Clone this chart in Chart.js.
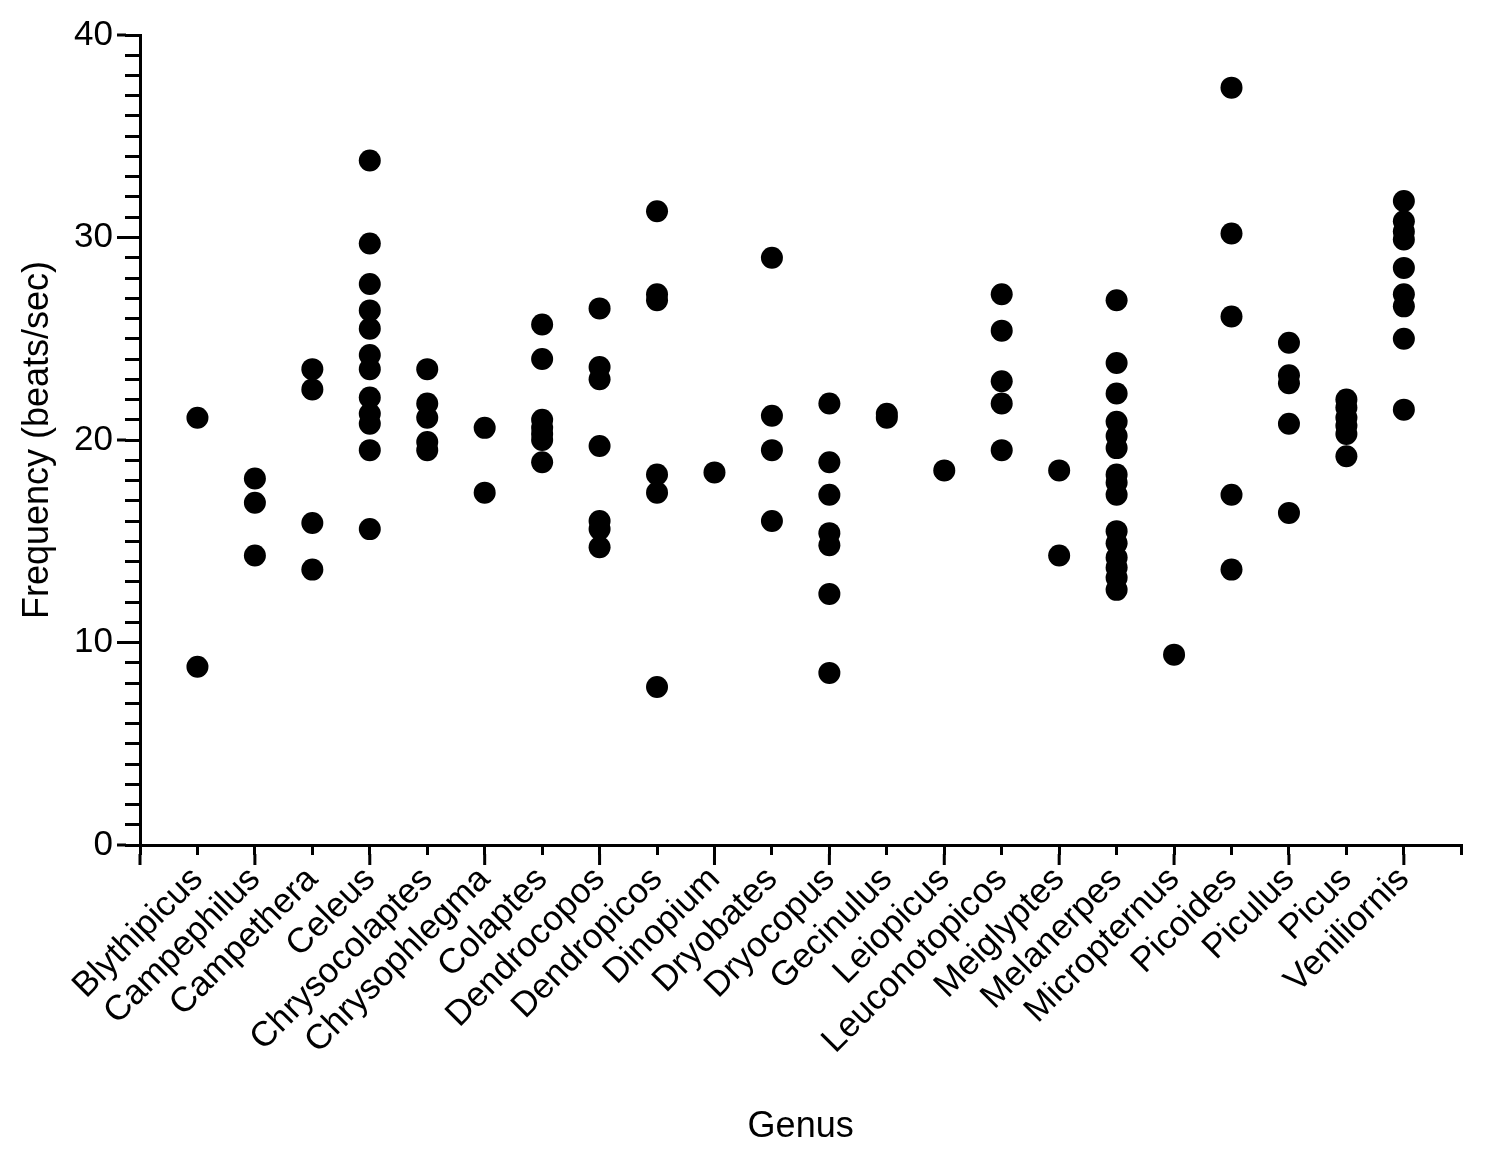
<!DOCTYPE html>
<html>
<head>
<meta charset="utf-8">
<script src="https://cdn.jsdelivr.net/npm/chart.js@4.4.1/dist/chart.umd.min.js"></script>
<style>
  html, body { margin: 0; padding: 0; background: #fff; }
  #wrap { width: 1495px; height: 1158px; }
</style>
</head>
<body>
<div id="wrap"><canvas id="chart"></canvas></div>
<script>
// genera on the x axis, in order
const genera = [
    "Blythipicus", "Campephilus", "Campethera", "Celeus", "Chrysocolaptes",
    "Chrysophlegma", "Colaptes", "Dendrocopos", "Dendropicos", "Dinopium",
    "Dryobates", "Dryocopus", "Gecinulus", "Leiopicus", "Leuconotopicos",
    "Meiglyptes", "Melanerpes", "Micropternus", "Picoides", "Piculus",
    "Picus", "Veniliornis"
];

// drumming frequency (beats/sec) per genus
const blythipicus = [21.1, 8.8];
const campephilus = [18.1, 16.9, 14.3];
const campethera = [23.5, 22.5, 15.9, 13.6];
const celeus = [33.8, 29.7, 27.7, 26.4, 25.5, 24.2, 23.5, 22.1, 21.3, 20.8, 19.5, 15.6];
const chrysocolaptes = [23.5, 21.8, 21.1, 19.9, 19.5];
const chrysophlegma = [20.6, 17.4];
const colaptes = [25.7, 24.0, 21.0, 20.6, 20.3, 20.0, 18.9];
const dendrocopos = [26.5, 23.6, 23.0, 19.7, 16.0, 15.6, 14.7];
const dendropicos = [31.3, 27.2, 26.9, 18.3, 17.4, 7.8];
const dinopium = [18.4];
const dryobates = [29.0, 21.2, 19.5, 16.0];
const dryocopus = [21.8, 18.9, 17.3, 15.4, 14.8, 12.4, 8.5];
const gecinulus = [21.3, 21.1];
const leiopicus = [18.5];
const leuconotopicos = [27.2, 25.4, 22.9, 21.8, 19.5];
const meiglyptes = [18.5, 14.3];
const melanerpes = [26.9, 23.8, 22.3, 20.9, 20.2, 19.6, 18.3, 17.9, 17.3, 15.5, 14.9, 14.2, 13.7, 13.2, 12.6];
const micropternus = [9.4];
const picoides = [37.4, 30.2, 26.1, 17.3, 13.6];
const piculus = [24.8, 23.2, 22.8, 20.8, 16.4];
const picus = [22.0, 21.6, 21.1, 20.7, 20.3, 19.2];
const veniliornis = [31.8, 30.8, 30.3, 29.9, 28.5, 27.2, 26.6, 25.0, 21.5];

const valuesByGenus = [
    blythipicus, campephilus, campethera, celeus, chrysocolaptes,
    chrysophlegma, colaptes, dendrocopos, dendropicos, dinopium,
    dryobates, dryocopus, gecinulus, leiopicus, leuconotopicos,
    meiglyptes, melanerpes, micropternus, picoides, piculus,
    picus, veniliornis
];

const yMajorTicks = [0, 10, 20, 30, 40];

function buildPoints() {
    let points = [];
    valuesByGenus.forEach((vals, i) => {
        vals.forEach(v => {
            points.push({ x: i + 1, y: v });
        });
    });
    return points;
}

// longer ticks for the major positions (y every 10, x every 2)
const majorTicks = {
    id: 'majorTicks',
    afterDraw(chart) {
        const ctx = chart.ctx;
        const xs = chart.scales.x;
        const ys = chart.scales.y;
        const area = chart.chartArea;
        ctx.save();
        ctx.strokeStyle = '#000';
        ctx.lineWidth = 3;
        ctx.beginPath();
        yMajorTicks.forEach(v => {
            const py = ys.getPixelForValue(v);
            ctx.moveTo(area.left - 23, py);
            ctx.lineTo(area.left - 14, py);
        });
        for (let v = 0; v <= genera.length; v += 2) {
            const px = xs.getPixelForValue(v);
            ctx.moveTo(px, area.bottom + 9);
            ctx.lineTo(px, area.bottom + 20);
        }
        ctx.stroke();
        ctx.restore();
    }
};

const ctx = document.getElementById('chart').getContext('2d');

new Chart(ctx, {
    type: 'scatter',
    data: {
        datasets: [{
            label: 'Frequency',
            data: buildPoints(),
            backgroundColor: '#000',
            borderWidth: 0,
            pointRadius: 11,
            pointHoverRadius: 11
        }]
    },
    options: {
        responsive: true,
        maintainAspectRatio: false,
        animation: false,
        layout: {
            padding: { top: 35, right: 32, left: 0, bottom: 0 }
        },
        plugins: {
            legend: { display: false },
            tooltip: { enabled: false }
        },
        scales: {
            x: {
                type: 'linear',
                min: 0,
                max: genera.length + 1,
                afterFit: scale => { scale.height = 313; },
                border: { color: '#000', width: 3 },
                grid: {
                    drawOnChartArea: false,
                    color: '#000',
                    lineWidth: 3,
                    tickLength: 10
                },
                ticks: {
                    stepSize: 1,
                    autoSkip: false,
                    maxRotation: 45,
                    minRotation: 45,
                    padding: 4,
                    color: '#000',
                    font: { family: 'Liberation Sans', size: 35 },
                    callback: v => (v >= 1 && v <= genera.length) ? genera[v - 1] : ''
                },
                title: {
                    display: true,
                    text: 'Genus',
                    color: '#000',
                    font: { family: 'Liberation Sans', size: 36 },
                    padding: { top: 0, bottom: 9 }
                }
            },
            y: {
                min: 0,
                max: 40,
                afterFit: scale => { scale.width = 140; },
                border: { color: '#000', width: 3 },
                grid: {
                    drawOnChartArea: false,
                    color: '#000',
                    lineWidth: 3,
                    tickLength: 15
                },
                ticks: {
                    stepSize: 1,
                    autoSkip: false,
                    padding: 12,
                    color: '#000',
                    font: { family: 'Liberation Sans', size: 35 },
                    callback: v => (v % 10 === 0) ? v : ''
                },
                title: {
                    display: true,
                    text: 'Frequency (beats/sec)',
                    color: '#000',
                    font: { family: 'Liberation Sans', size: 36 },
                    padding: { top: 16, bottom: 0 }
                }
            }
        }
    },
    plugins: [majorTicks]
});
</script>
</body>
</html>
